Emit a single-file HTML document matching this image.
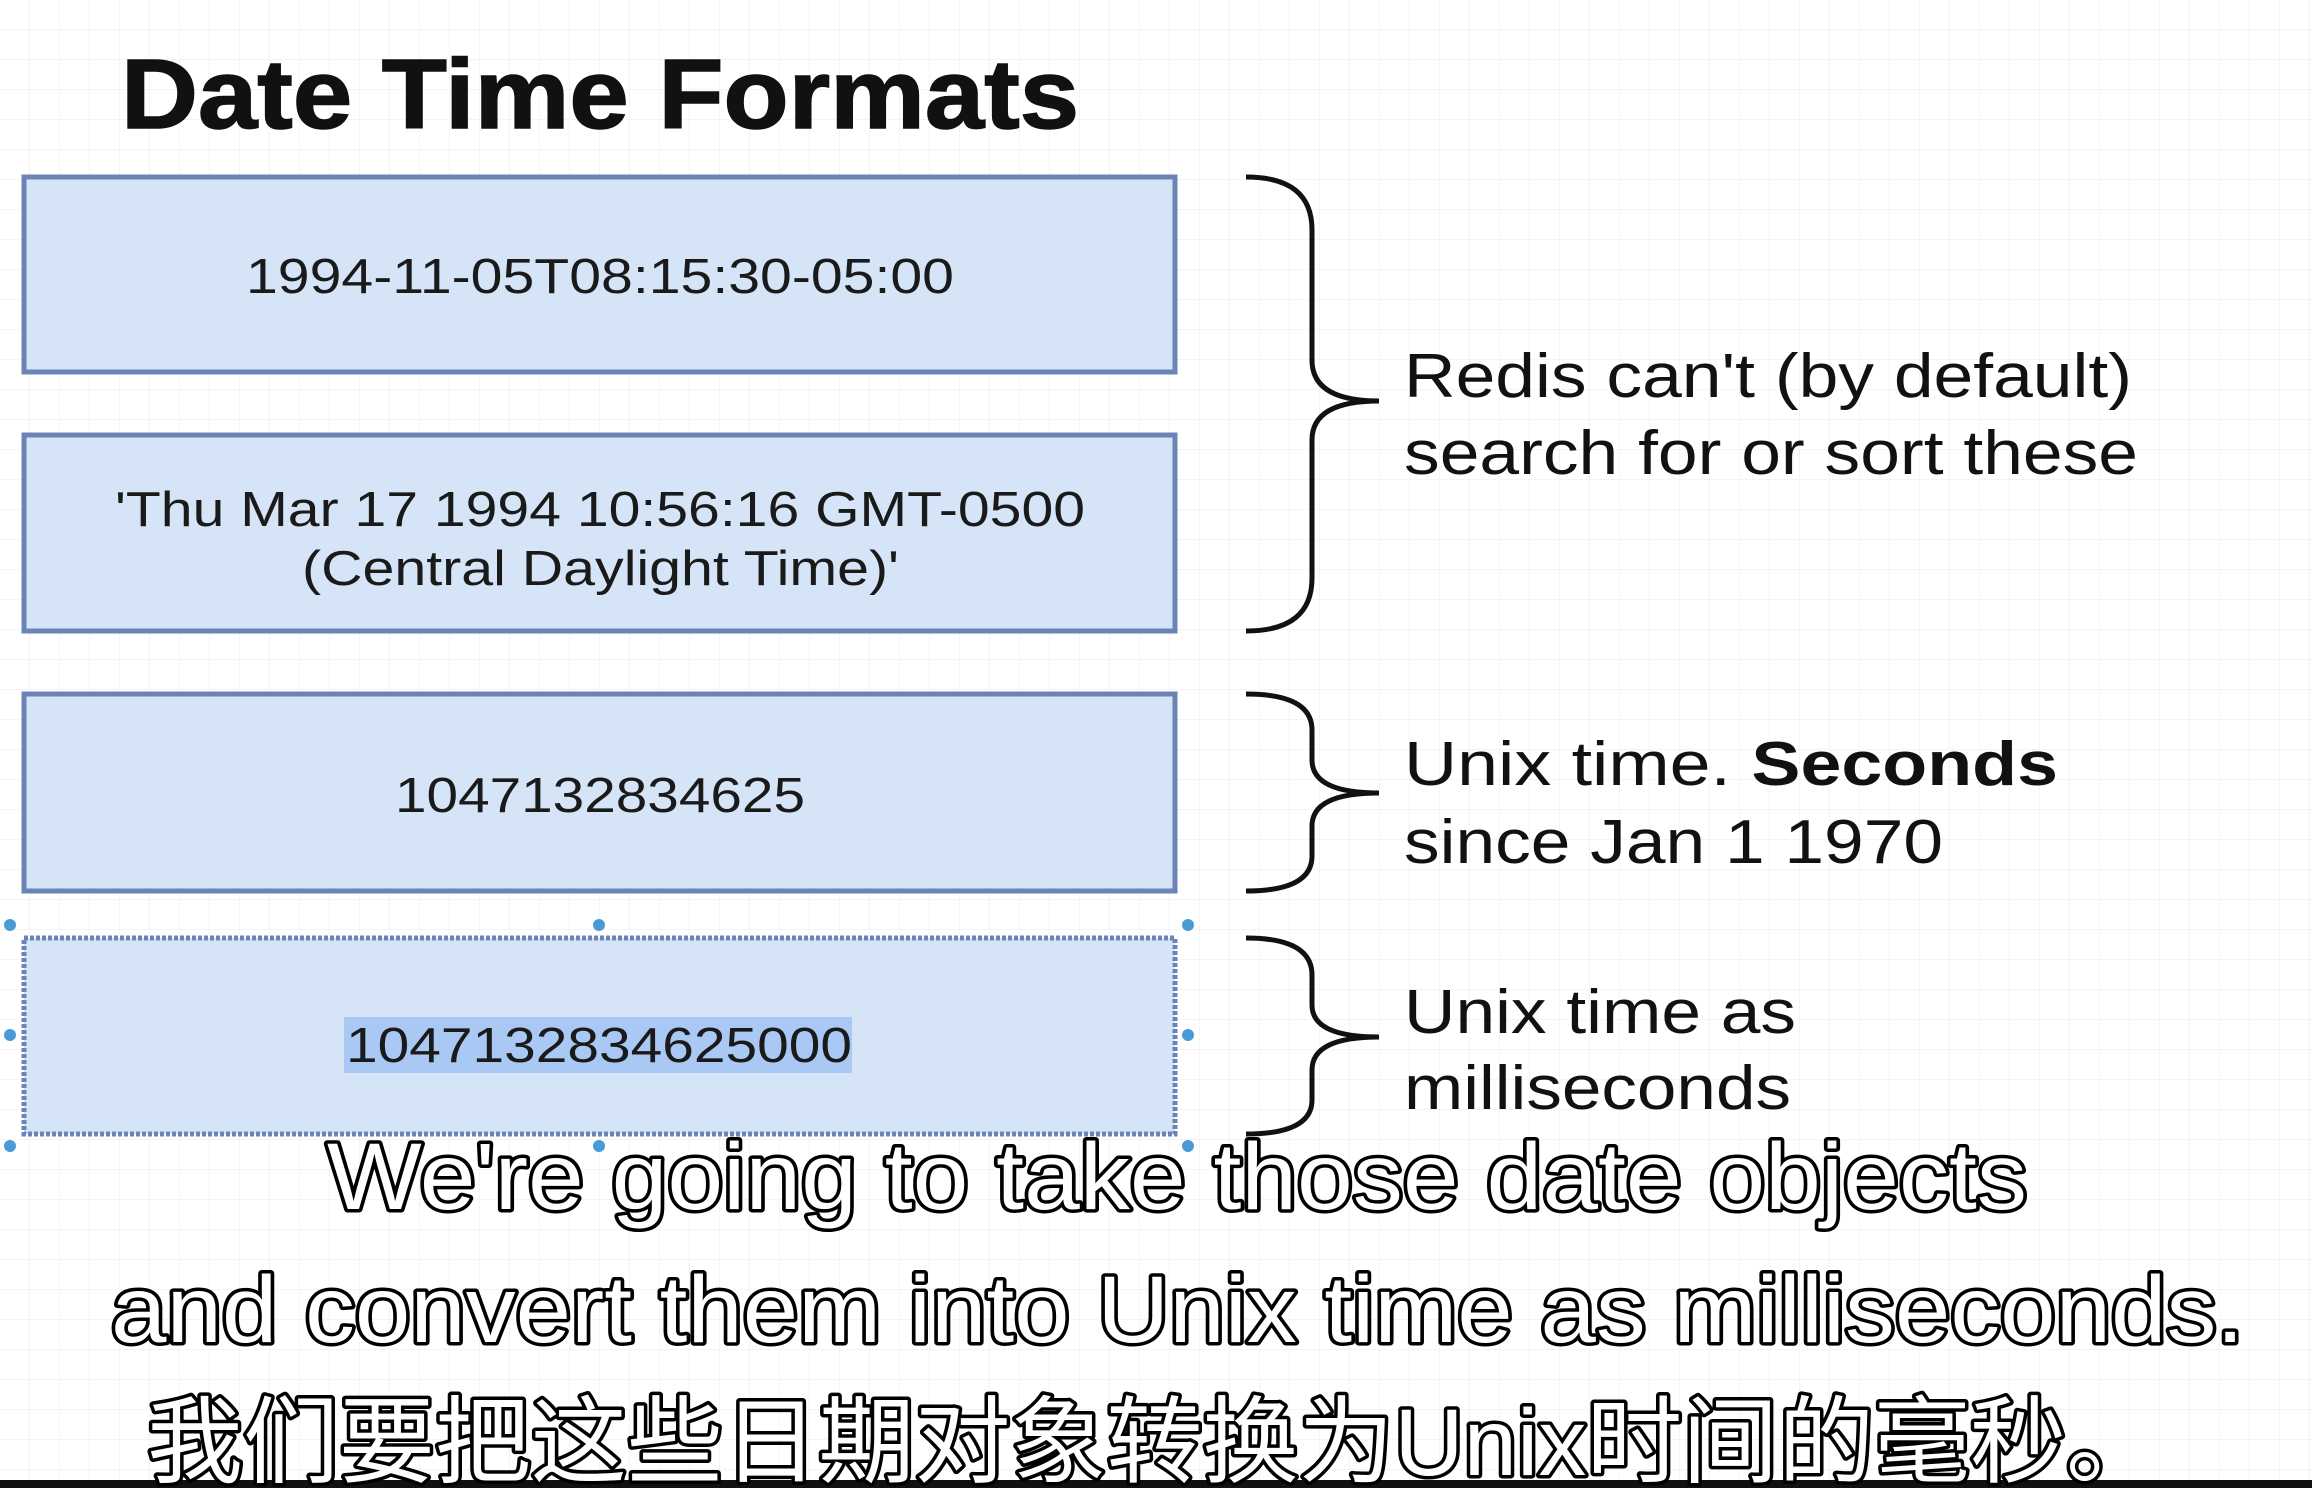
<!DOCTYPE html>
<html><head><meta charset="utf-8"><style>
html,body{margin:0;padding:0;background:#fff;}
svg{display:block;}
</style></head><body>
<svg width="2312" height="1488" viewBox="0 0 2312 1488" xmlns="http://www.w3.org/2000/svg">
<defs>
<pattern id="g" width="30" height="30" patternUnits="userSpaceOnUse">
<path d="M30 0V30M0 30H30" stroke="#f1f1f1" stroke-width="1.5" fill="none"/>
</pattern>
</defs>
<rect width="2312" height="1488" fill="#fff"/>
<rect width="2312" height="1488" fill="url(#g)"/>
<g font-family="Liberation Sans, sans-serif">
<text x="121" y="128" font-size="98" font-weight="bold" textLength="958" lengthAdjust="spacingAndGlyphs" fill="#111" stroke="#111" stroke-width="1.5">Date Time Formats</text>

<g fill="#d6e4f8" stroke="#6c83b5" stroke-width="5">
<rect x="24" y="177" width="1151" height="195"/>
<rect x="24" y="435" width="1151" height="196"/>
<rect x="24" y="694" width="1151" height="197"/>
<rect x="24" y="938" width="1151" height="196" stroke-dasharray="4 2"/>
</g>
<rect x="344" y="1017" width="508" height="56" fill="#a9c8f3"/>
<g font-size="49" fill="#1a1a1a" lengthAdjust="spacingAndGlyphs">
<text x="246" y="293" textLength="708" lengthAdjust="spacingAndGlyphs">1994-11-05T08:15:30-05:00</text>
<text x="115" y="526" textLength="970" lengthAdjust="spacingAndGlyphs">'Thu Mar 17 1994 10:56:16 GMT-0500</text>
<text x="302" y="585" textLength="597" lengthAdjust="spacingAndGlyphs">(Central Daylight Time)'</text>
<text x="395" y="812" textLength="410" lengthAdjust="spacingAndGlyphs">1047132834625</text>
<text x="346" y="1062" textLength="506" lengthAdjust="spacingAndGlyphs">1047132834625000</text>
</g>
<g fill="#4a9ad8">
<circle cx="10" cy="925" r="6"/><circle cx="599" cy="925" r="6"/><circle cx="1188" cy="925" r="6"/>
<circle cx="10" cy="1035" r="6"/><circle cx="1188" cy="1035" r="6"/>
<circle cx="10" cy="1146" r="6"/><circle cx="599" cy="1146" r="6"/><circle cx="1188" cy="1146" r="6"/>
</g>
<g fill="none" stroke="#111" stroke-width="5">
<path d="M1246 177 Q1312 177 1312 230 V360 Q1312 401 1379 401 Q1312 401 1312 440 V578 Q1312 631 1246 631"/>
<path d="M1246 694 Q1312 694 1312 730 V760 Q1312 793 1379 793 Q1312 793 1312 826 V856 Q1312 891 1246 891"/>
<path d="M1246 938 Q1312 938 1312 975 V1005 Q1312 1037 1379 1037 Q1312 1037 1312 1070 V1100 Q1312 1134 1246 1134"/>
</g>
<g font-size="62" fill="#111">
<text x="1404" y="397" textLength="728" lengthAdjust="spacingAndGlyphs">Redis can't (by default)</text>
<text x="1404" y="474" textLength="734" lengthAdjust="spacingAndGlyphs">search for or sort these</text>
<text x="1404" y="785" textLength="654" lengthAdjust="spacingAndGlyphs">Unix time.  <tspan font-weight="bold">Seconds</tspan></text>
<text x="1404" y="863" textLength="539" lengthAdjust="spacingAndGlyphs">since Jan 1 1970</text>
<text x="1404" y="1033" textLength="392" lengthAdjust="spacingAndGlyphs">Unix time as</text>
<text x="1404" y="1109" textLength="387" lengthAdjust="spacingAndGlyphs">milliseconds</text>
</g>
<rect x="0" y="1480" width="2312" height="8" fill="#111"/>
<g font-size="95" fill="#fff" stroke="#000" stroke-width="7" paint-order="stroke" stroke-linejoin="round">
<text x="327" y="1209" textLength="1700" lengthAdjust="spacingAndGlyphs">We're going to take those date objects</text>
<text x="111" y="1342" textLength="2133" lengthAdjust="spacingAndGlyphs">and convert them into Unix time as milliseconds.</text>
<text x="147" y="1475" textLength="2015" lengthAdjust="spacingAndGlyphs" font-family="Liberation Sans, Noto Sans CJK SC, sans-serif">我们要把这些日期对象转换为Unix时间的毫秒。</text>
</g>
</g>
</svg>
</body></html>
